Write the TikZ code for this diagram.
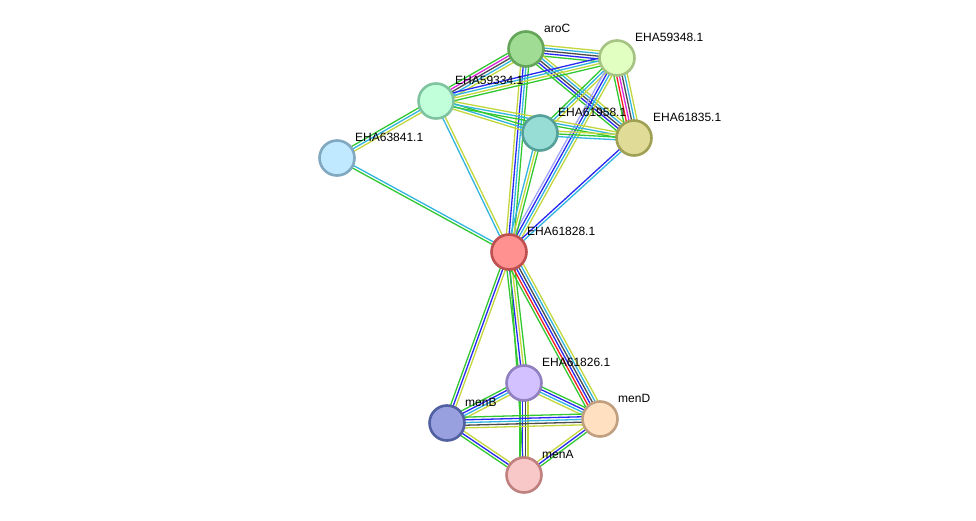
\documentclass[tikz,border=0pt]{standalone}
\usepackage{fontspec}
\setmainfont{Liberation Sans}
\usetikzlibrary{calc,backgrounds}
\definecolor{cG}{RGB}{50,200,50}
\definecolor{cB}{RGB}{40,40,245}
\definecolor{cC}{RGB}{50,180,225}
\definecolor{cY}{RGB}{195,215,60}
\definecolor{cK}{RGB}{75,75,75}
\definecolor{cR}{RGB}{250,30,30}
\definecolor{cM}{RGB}{220,40,220}
\definecolor{cL}{RGB}{165,165,250}
\tikzset{
  prot/.style={circle, minimum size=35pt, inner sep=0pt, line width=2.6pt},
  lbl/.style={anchor=west, inner sep=0pt, font=\fontsize{12}{14}\selectfont},
  ln/.style={line width=1.3pt}
}
\newcommand\medge[4]{%
  \foreach \c [count=\i] in {#4} {%
    \pgfmathsetmacro\off{(\i-(#3+1)/2)*2.7}%
    \draw[ln,\c] ($(#1.center)!\off pt!90:(#2.center)$) -- ($(#2.center)!\off pt!-90:(#1.center)$);
  }%
}
\begin{document}
\begin{tikzpicture}[x=1pt,y=-1pt]
\useasboundingbox (0,0) rectangle (976,521);
% nodes
\node[prot, fill={rgb,255:red,160;green,220;blue,148}, draw={rgb,255:red,100;green,165;blue,90}] (aroC) at (526,49) {};
\node[prot, fill={rgb,255:red,225;green,255;blue,192}, draw={rgb,255:red,165;green,195;blue,130}] (p348) at (617,58) {};
\node[prot, fill={rgb,255:red,192;green,255;blue,218}, draw={rgb,255:red,128;green,195;blue,160}] (p334) at (436,101) {};
\node[prot, fill={rgb,255:red,152;green,220;blue,214}, draw={rgb,255:red,85;green,160;blue,152}] (p958) at (540,133) {};
\node[prot, fill={rgb,255:red,224;green,220;blue,152}, draw={rgb,255:red,160;green,160;blue,85}] (p835) at (634,138) {};
\node[prot, fill={rgb,255:red,192;green,232;blue,255}, draw={rgb,255:red,128;green,168;blue,192}] (p841) at (337,158) {};
\node[prot, fill={rgb,255:red,255;green,145;blue,145}, draw={rgb,255:red,190;green,80;blue,80}] (p828) at (509,252) {};
\node[prot, fill={rgb,255:red,210;green,192;blue,255}, draw={rgb,255:red,145;green,128;blue,192}] (p826) at (524,383) {};
\node[prot, fill={rgb,255:red,255;green,224;blue,192}, draw={rgb,255:red,192;green,160;blue,128}] (menD) at (600,419) {};
\node[prot, fill={rgb,255:red,152;green,160;blue,224}, draw={rgb,255:red,80;green,96;blue,160}] (menB) at (447,423) {};
\node[prot, fill={rgb,255:red,248;green,200;blue,200}, draw={rgb,255:red,192;green,128;blue,128}] (menA) at (524,475) {};
% labels
\node[lbl] (laroC) at (544,28) {aroC};
\node[lbl] (l348) at (635,37) {EHA59348.1};
\node[lbl] (l334) at (455,80) {EHA59334.1};
\node[lbl] (l958) at (558,112) {EHA61958.1};
\node[lbl] (l835) at (653,117) {EHA61835.1};
\node[lbl] (l841) at (355,137) {EHA63841.1};
\node[lbl] (l828) at (527,231) {EHA61828.1};
\node[lbl] (l826) at (542,362) {EHA61826.1};
\node[lbl] (lmenD) at (618,398) {menD};
\node[lbl] (lmenB) at (465,402) {menB};
\node[lbl] (lmenA) at (542,454) {menA};
% edges
\begin{pgfonlayer}{background}
\fill[white] (0,0) rectangle (976,521);
\medge{aroC}{p348}{5}{cG,cB,cK,cC,cY}
\medge{aroC}{p334}{5}{cG,cM,cK,cC,cY}
\medge{aroC}{p835}{5}{cG,cB,cK,cC,cY}
\medge{aroC}{p828}{4}{cY,cB,cC,cG}
\medge{p348}{p334}{4}{cB,cC,cY,cG}
\medge{p348}{p835}{6}{cG,cR,cM,cK,cC,cY}
\medge{p348}{p958}{3}{cG,cC,cY}
\medge{p348}{p828}{4}{cL,cB,cC,cY}
\medge{p334}{p958}{3}{cY,cC,cG}
\medge{p334}{p835}{3}{cG,cC,cY}
\medge{p334}{p841}{3}{cG,cC,cY}
\medge{p334}{p828}{2}{cC,cY}
\medge{p958}{p835}{3}{cC,cG,cY}
\medge{p958}{p828}{3}{cC,cY,cG}
\medge{p835}{p828}{2}{cB,cC}
\medge{p841}{p828}{2}{cG,cC}
\medge{p828}{p826}{4}{cG,cB,cY,cG}
\medge{p828}{menD}{6}{cG,cR,cB,cK,cC,cY}
\medge{p828}{menB}{3}{cG,cB,cY}
\medge{p828}{menA}{1}{cG}
\medge{p826}{menB}{4}{cG,cB,cC,cY}
\medge{p826}{menD}{4}{cY,cC,cB,cG}
\medge{p826}{menA}{4}{cG,cB,cK,cY}
\medge{menB}{menD}{5}{cY,cK,cC,cB,cG}
\medge{menB}{menA}{3}{cG,cB,cY}
\medge{menD}{menA}{3}{cY,cB,cG}
\end{pgfonlayer}
\end{tikzpicture}
\end{document}
